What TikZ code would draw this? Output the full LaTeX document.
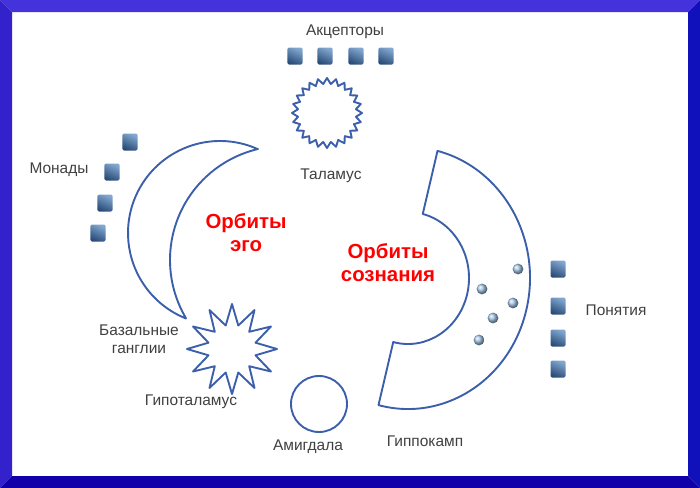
\documentclass[tikz,border=0pt]{standalone}
\usepackage{fontspec}
\setmainfont{Liberation Sans}
\usetikzlibrary{shapes.geometric}
\definecolor{frametop}{RGB}{68,51,221}
\definecolor{frameleft}{RGB}{51,34,204}
\definecolor{frameright}{RGB}{17,17,187}
\definecolor{framebottom}{RGB}{17,0,170}
\definecolor{linecol}{RGB}{60,95,172}
\definecolor{labelcol}{RGB}{64,64,64}
\definecolor{cubetop}{RGB}{130,168,208}
\definecolor{cubebot}{RGB}{42,76,120}
\definecolor{beadcol}{RGB}{165,200,232}

\begin{document}
\begin{tikzpicture}[x=0.025cm,y=0.025cm,
  outline/.style={draw=linecol,line width=1.35pt,line join=round},
  lbl/.style={text=labelcol,font=\fontsize{11}{13}\selectfont,align=center},
  orbit/.style={text=red,font=\fontsize{14.5}{16.5}\selectfont\bfseries,align=center},
  cube/.style={minimum width=0.375cm,minimum height=0.425cm,inner sep=0pt,
    rounded corners=1pt,top color=cubetop,bottom color=cubebot,shading angle=-25},
  bead/.style={circle,inner sep=0pt,minimum size=0.27cm,shading=ball,ball color=beadcol}]
\useasboundingbox (0,0) rectangle (700,-488);

% frame
\fill[frametop]    (0,0) -- (700,0) -- (688,-12) -- (12,-12) -- cycle;
\fill[frameleft]   (0,0) -- (12,-12) -- (12,-476) -- (0,-488) -- cycle;
\fill[frameright]  (700,0) -- (700,-488) -- (688,-476) -- (688,-12) -- cycle;
\fill[framebottom] (0,-488) -- (700,-488) -- (688,-476) -- (12,-476) -- cycle;

% crescent
\coordinate (egoOut) at (220,-233);
\coordinate (egoIn)  at (284,-260);
\draw[outline] ([shift={(egoOut)}]65.7:92) arc[start angle=65.7,end angle=248.2,radius=92]
    -- ([shift={(egoIn)}]210.6:114) arc[start angle=210.6,end angle=103.2,radius=114] -- cycle;

% half ring
\coordinate (mindC) at (408,-278);
\draw[outline] ([shift={(mindC)}]76:122 and 131)
    arc[start angle=76,end angle=-104,x radius=122,y radius=131]
    -- ([shift={(mindC)}]-104:61 and 66)
    arc[start angle=-104,end angle=76,x radius=61,y radius=66] -- cycle;

\node[orbit] (egoLbl)  at (246,-233) {Орбиты\\эго};
\node[orbit] (mindLbl) at (388,-263) {Орбиты\\сознания};

\node[outline,star,star points=24,star point ratio=1.2,minimum size=1.75cm,inner sep=0pt]
    (thalamus) at (327,-113) {};
\node[outline,star,star points=12,star point ratio=1.85,minimum size=2.25cm,inner sep=0pt]
    (hypothalamus) at (232,-349) {};
\node[outline,circle,minimum size=1.4cm,inner sep=0pt] (amygdala) at (319,-404) {};

\foreach \x [count=\i] in {295,325,356,386}
  \node[cube] (acceptor\i) at (\x,-56) {};
\foreach \x/\y [count=\i] in {130/142,112/172,105/203,98/233}
  \node[cube] (monad\i) at (\x,-\y) {};
\foreach \y [count=\i] in {269,306,338,369}
  \node[cube] (notion\i) at (558,-\y) {};
\foreach \x/\y [count=\i] in {518/269,482/289,513/303,493/318,479/340}
  \node[bead] (bead\i) at (\x,-\y) {};

\node[lbl] (acceptorsLbl) at (345,-32)  {Акцепторы};
\node[lbl] (thalamusLbl)  at (331,-176) {Таламус};
\node[lbl] (monadsLbl)    at (59,-170)  {Монады};
\node[lbl] (basalLbl)     at (139,-339) {Базальные\\ганглии};
\node[lbl] (hypoLbl)      at (191,-402) {Гипоталамус};
\node[lbl] (amygdalaLbl)  at (308,-447) {Амигдала};
\node[lbl] (hippoLbl)     at (425,-441) {Гиппокамп};
\node[lbl] (notionsLbl)   at (616,-310) {Понятия};
\end{tikzpicture}
\end{document}
